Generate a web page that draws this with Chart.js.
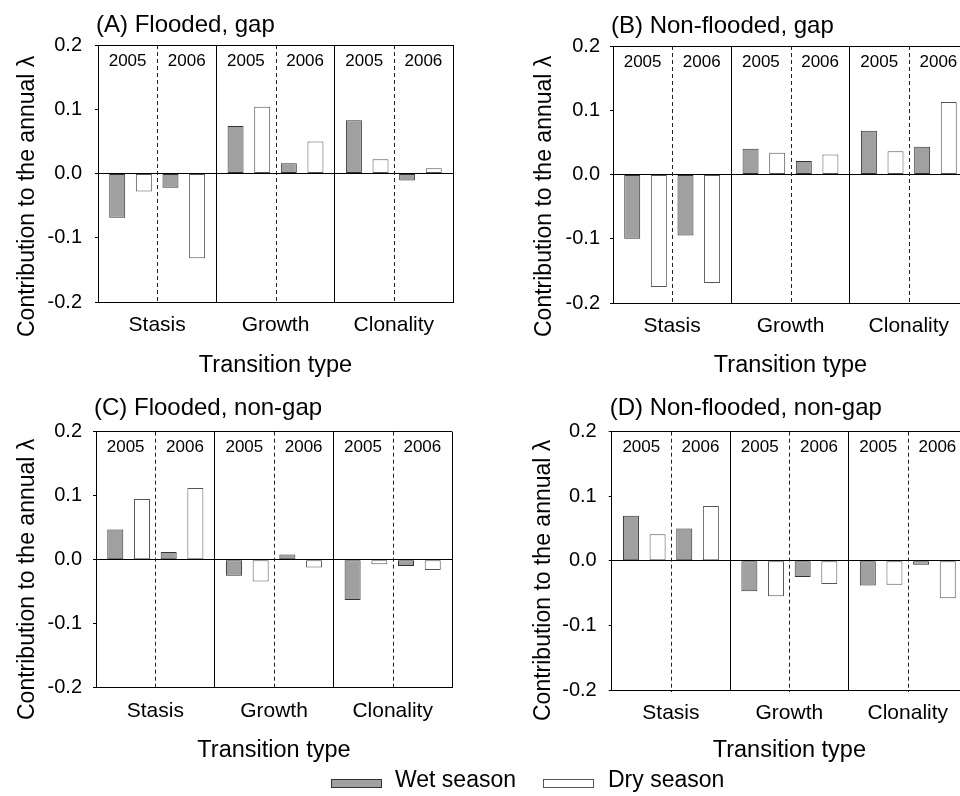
<!DOCTYPE html>
<html>
<head>
<meta charset="utf-8">
<title>Contribution of transitions to the annual population growth rate</title>
<script src="https://cdn.jsdelivr.net/npm/chart.js@4.4.1/dist/chart.umd.min.js"></script>
<style>
  html, body { margin: 0; padding: 0; background: #fff; }
  body { width: 960px; height: 796px; overflow: hidden; position: relative; }
  canvas { position: absolute; }
  .swatch { position: absolute; box-sizing: border-box; height: 9px; width: 51px; }
  .legend-text { position: absolute; font: 23px "Liberation Sans", Arial, sans-serif; line-height: 23px; color: #000; white-space: nowrap; }
</style>
</head>
<body>
<canvas id="panelA" width="480" height="385" style="left:0;top:0"></canvas>
<canvas id="panelB" width="500" height="385" style="left:480px;top:0"></canvas>
<canvas id="panelC" width="480" height="411" style="left:0;top:385px"></canvas>
<canvas id="panelD" width="500" height="411" style="left:480px;top:385px"></canvas>

<div class="swatch" style="left:331px;top:779px;background:#a0a0a0;border:1px solid #333"></div>
<div class="legend-text" style="left:395px;top:768px">Wet season</div>
<div class="swatch" style="left:543px;top:779px;background:#fff;border:1px solid #555"></div>
<div class="legend-text" style="left:608px;top:768px">Dry season</div>

<script>
// Categories and labels
const transitionTypes = ['Stasis', 'Growth', 'Clonality'];
const yearLabels = ['2005', '2006'];
const seasonNames = ['Wet season', 'Dry season'];
const yTickValues = [-0.2, -0.1, 0, 0.1, 0.2];

// Contributions to the annual lambda, ordered Stasis, Growth, Clonality
// (A) Flooded, gap
const floodedGapWet2005 = [-0.069, 0.074, 0.083];
const floodedGapDry2005 = [-0.028, 0.104, 0.022];
const floodedGapWet2006 = [-0.022, 0.016, -0.011];
const floodedGapDry2006 = [-0.132, 0.050, 0.008];

// (B) Non-flooded, gap
const nonFloodedGapWet2005 = [-0.100, 0.040, 0.068];
const nonFloodedGapDry2005 = [-0.175, 0.034, 0.036];
const nonFloodedGapWet2006 = [-0.095, 0.021, 0.043];
const nonFloodedGapDry2006 = [-0.169, 0.031, 0.113];

// (C) Flooded, non-gap
const floodedNonGapWet2005 = [0.047, -0.025, -0.063];
const floodedNonGapDry2005 = [0.095, -0.034, -0.007];
const floodedNonGapWet2006 = [0.012, 0.008, -0.010];
const floodedNonGapDry2006 = [0.112, -0.012, -0.016];

// (D) Non-flooded, non-gap
const nonFloodedNonGapWet2005 = [0.070, -0.047, -0.038];
const nonFloodedNonGapDry2005 = [0.041, -0.055, -0.037];
const nonFloodedNonGapWet2006 = [0.050, -0.025, -0.006];
const nonFloodedNonGapDry2006 = [0.085, -0.036, -0.058];

const FONT = '"Liberation Sans", Arial, sans-serif';
const WET_FILL = '#a0a0a0', WET_EDGE = '#333333';
const DRY_FILL = '#ffffff', DRY_EDGE = '#555555';
const CLEAR = 'rgba(0,0,0,0)';

// Draws the year dividers, year labels, panel title and axis titles
const panelDecor = {
  id: 'panelDecor',
  beforeDatasetsDraw(chart) {
    const { ctx, chartArea } = chart;
    const x = chart.scales.x;
    ctx.save();
    ctx.strokeStyle = '#222';
    ctx.lineWidth = 1;
    ctx.setLineDash([4, 3]);
    transitionTypes.forEach((_, i) => {
      const px = Math.round(x.getPixelForValue(i)) + 0.5;
      ctx.beginPath();
      ctx.moveTo(px, chartArea.top);
      ctx.lineTo(px, chartArea.bottom + 2);
      ctx.stroke();
    });
    ctx.restore();
  },
  afterDraw(chart, args, opts) {
    const { ctx, chartArea } = chart;
    const x = chart.scales.x;
    const catW = (chartArea.right - chartArea.left) / transitionTypes.length;
    ctx.save();
    ctx.fillStyle = '#000';
    // year labels at the top of each half-category
    ctx.font = '17px ' + FONT;
    ctx.textAlign = 'center';
    ctx.textBaseline = 'middle';
    transitionTypes.forEach((_, i) => {
      const c = x.getPixelForValue(i);
      ctx.fillText(yearLabels[0], c - catW / 4, chartArea.top + 16);
      ctx.fillText(yearLabels[1], c + catW / 4, chartArea.top + 16);
    });
    // panel title
    ctx.font = '24px ' + FONT;
    ctx.textAlign = 'left';
    ctx.textBaseline = 'alphabetic';
    ctx.fillText(opts.title, chartArea.left - 2, opts.titleY);
    // x axis title
    ctx.font = '23.5px ' + FONT;
    ctx.textAlign = 'center';
    ctx.fillText('Transition type', (chartArea.left + chartArea.right) / 2, opts.xTitleY);
    // y axis title
    ctx.font = '23px ' + FONT;
    ctx.translate(opts.yTitleX, opts.yTitleStart);
    ctx.rotate(-Math.PI / 2);
    ctx.textAlign = 'left';
    ctx.fillText('Contribution to the annual \u03BB', 0, 0);
    ctx.restore();
  }
};

function makePanel(id, series, frame) {
  const [w5, d5, w6, d6] = series;
  const bar = (label, data, fill, edge) => ({
    label, data, backgroundColor: fill, borderColor: edge, borderWidth: 1, borderSkipped: false, inflateAmount: 0
  });
  return new Chart(document.getElementById(id), {
    type: 'bar',
    data: {
      labels: transitionTypes,
      datasets: [
        bar(seasonNames[0] + ' ' + yearLabels[0], w5, WET_FILL, WET_EDGE),
        bar(seasonNames[1] + ' ' + yearLabels[0], d5, DRY_FILL, DRY_EDGE),
        bar(seasonNames[0] + ' ' + yearLabels[1], w6, WET_FILL, WET_EDGE),
        bar(seasonNames[1] + ' ' + yearLabels[1], d6, DRY_FILL, DRY_EDGE)
      ]
    },
    options: {
      responsive: false,
      animation: false,
      devicePixelRatio: 1,
      layout: { padding: { left: 0, top: frame.top, right: frame.right, bottom: 0 } },
      datasets: { bar: { categoryPercentage: 0.9, barPercentage: 0.6 } },
      plugins: {
        legend: { display: false },
        tooltip: { enabled: false },
        title: { display: false },
        panelDecor: frame.text
      },
      scales: {
        x: {
          // solid separators between transition types plus the right frame edge
          grid: { offset: true, color: c => (c.index === 0 ? CLEAR : '#000'), lineWidth: 1, drawTicks: false },
          border: { display: true, color: '#000' },
          ticks: { color: '#000', font: { family: FONT, size: 21 }, padding: 11, maxRotation: 0, autoSkip: false },
          afterFit(s) { s.height = frame.xAxisH; }
        },
        y: {
          min: -0.2, max: 0.2,
          afterBuildTicks(s) { s.ticks = yTickValues.map(v => ({ value: v })); },
          grid: {
            // zero line and top frame edge only
            color: c => (c.tick && (Math.abs(c.tick.value) < 1e-9 || Math.abs(c.tick.value - 0.2) < 1e-9)) ? '#000' : CLEAR,
            drawTicks: true, tickLength: 3, tickColor: '#000'
          },
          border: { display: true, color: '#000' },
          ticks: { color: '#000', font: { family: FONT, size: 20 }, padding: frame.tickPad, callback: v => Number(v).toFixed(1) },
          afterFit(s) { s.width = frame.yAxisW; }
        }
      }
    },
    plugins: [panelDecor]
  });
}

makePanel('panelA',
  [floodedGapWet2005, floodedGapDry2005, floodedGapWet2006, floodedGapDry2006],
  { top: 45, right: 27, yAxisW: 98, xAxisH: 83, tickPad: 13,
    text: { title: '(A) Flooded, gap', titleY: 32, xTitleY: 371.5, yTitleX: 34, yTitleStart: 337 } });

makePanel('panelB',
  [nonFloodedGapWet2005, nonFloodedGapDry2005, nonFloodedGapWet2006, nonFloodedGapDry2006],
  { top: 46, right: 12, yAxisW: 133, xAxisH: 82, tickPad: 10,
    text: { title: '(B) Non-flooded, gap', titleY: 33, xTitleY: 371.7, yTitleX: 71, yTitleStart: 337 } });

makePanel('panelC',
  [floodedNonGapWet2005, floodedNonGapDry2005, floodedNonGapWet2006, floodedNonGapDry2006],
  { top: 46.7, right: 28, yAxisW: 96, xAxisH: 108.3, tickPad: 11,
    text: { title: '(C) Flooded, non-gap', titleY: 30, xTitleY: 371.7, yTitleX: 33.5, yTitleStart: 335 } });

makePanel('panelD',
  [nonFloodedNonGapWet2005, nonFloodedNonGapDry2005, nonFloodedNonGapWet2006, nonFloodedNonGapDry2006],
  { top: 46.7, right: 13, yAxisW: 131.7, xAxisH: 106, tickPad: 12,
    text: { title: '(D) Non-flooded, non-gap', titleY: 30, xTitleY: 371.7, yTitleX: 70, yTitleStart: 336 } });
</script>
</body>
</html>
